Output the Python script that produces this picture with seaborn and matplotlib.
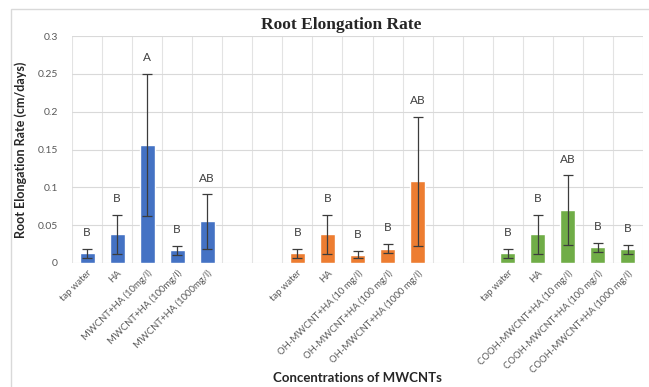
import numpy as np
import pandas as pd
import matplotlib
matplotlib.use("Agg")
import matplotlib.pyplot as plt
import seaborn as sns
from matplotlib.patches import Rectangle

# ---- data -------------------------------------------------------------
groups = ["MWCNT", "OH-MWCNT", "COOH-MWCNT"]

labels_mwcnt = ["tap water", "HA", "MWCNT+HA (10mg/l)",
                "MWCNT+HA (100mg/l)", "MWCNT+HA (1000mg/l)"]
labels_oh = ["tap water", "HA", "OH-MWCNT+HA (10 mg/l)",
             "OH-MWCNT+HA (100 mg/l)", "OH-MWCNT+HA (1000 mg/l)"]
labels_cooh = ["tap water", "HA", "COOH-MWCNT+HA (10 mg/l)",
               "COOH-MWCNT+HA (100 mg/l)", "COOH-MWCNT+HA (1000 mg/l)"]

means_mwcnt = [0.013, 0.038, 0.156, 0.017, 0.055]
means_oh = [0.013, 0.038, 0.011, 0.019, 0.108]
means_cooh = [0.013, 0.038, 0.070, 0.021, 0.018]

err_mwcnt = [0.006, 0.026, 0.094, 0.006, 0.036]
err_oh = [0.006, 0.026, 0.005, 0.006, 0.085]
err_cooh = [0.006, 0.026, 0.046, 0.006, 0.006]

letters_mwcnt = ["B", "B", "A", "B", "AB"]
letters_oh = ["B", "B", "B", "B", "AB"]
letters_cooh = ["B", "B", "AB", "B", "B"]

colors = ["#4472C4", "#ED7D31", "#70AD47"]

# ---- table ------------------------------------------------------------
all_labels = [labels_mwcnt, labels_oh, labels_cooh]
all_means = [means_mwcnt, means_oh, means_cooh]
all_errs = [err_mwcnt, err_oh, err_cooh]
all_letters = [letters_mwcnt, letters_oh, letters_cooh]

rows = []
order = []
tick_labels = []
for gi, (g, labs, ms, es, ls) in enumerate(zip(groups, all_labels, all_means,
                                                all_errs, all_letters)):
    for lab, m, e, l in zip(labs, ms, es, ls):
        key = f"{g}|{lab}"
        rows.append({"slot": key, "group": g, "rate": m, "err": e, "letter": l})
        order.append(key)
        tick_labels.append(lab)
    if gi < len(groups) - 1:
        # two empty slots separate the groups
        for k in range(2):
            order.append(f"gap{gi}{k}")
            tick_labels.append("")
df = pd.DataFrame(rows)

# ---- figure -----------------------------------------------------------
sns.set_theme(style="white")
plt.rcParams["font.family"] = ["Lato", "DejaVu Sans"]

fig = plt.figure(figsize=(6.49, 3.87), dpi=100)
ax = fig.add_axes([72 / 649, 1 - 263 / 387, (643 - 72) / 649, (263 - 36) / 387])

# outer chart frame
fig.patches.append(Rectangle((11 / 649, -0.05), 1.2, 1 - 8.5 / 387 + 0.05,
                             transform=fig.transFigure, fill=False,
                             edgecolor="#d9d9d9", linewidth=1.0, zorder=0))

sns.barplot(data=df, x="slot", y="rate", hue="group", order=order,
            hue_order=groups, palette=colors, width=0.5, dodge=False,
            errorbar=None, legend=False, saturation=1, ax=ax, zorder=3)

pos = {s: i for i, s in enumerate(order)}
xs = df["slot"].map(pos).to_numpy()
ax.errorbar(xs, df["rate"], yerr=df["err"], fmt="none", ecolor="#3c3c3c",
            elinewidth=0.9, capsize=3.5, capthick=0.9, zorder=4)

for x, m, e, l in zip(xs, df["rate"], df["err"], df["letter"]):
    ax.text(x, m + e + 0.014, l, ha="center", va="bottom", fontsize=8.5,
            color="#404040")

ax.set_xlim(-0.5, len(order) - 0.5)
ax.set_ylim(0, 0.3)
yt = [0, 0.05, 0.1, 0.15, 0.2, 0.25, 0.3]
ax.set_yticks(yt)
ax.set_yticklabels(["0", "0.05", "0.1", "0.15", "0.2", "0.25", "0.3"],
                   fontsize=7.5, color="#595959")
ax.set_xticks(range(len(order)))
ax.set_xticklabels(tick_labels, rotation=45, ha="right",
                   rotation_mode="anchor", fontsize=6.8, color="#595959")
ax.set_xticks(np.arange(-0.5, len(order), 1), minor=True)
ax.tick_params(axis="both", which="both", length=0)
ax.tick_params(axis="y", pad=10)
ax.tick_params(axis="x", pad=4)

ax.grid(axis="y", which="major", color="#d9d9d9", linewidth=0.8, zorder=0)
ax.grid(axis="x", which="minor", color="#e3e3e3", linewidth=0.8, zorder=0)
ax.grid(axis="x", which="major", visible=False)
ax.set_axisbelow(True)
for sp in ax.spines.values():
    sp.set_visible(False)

ax.set_xlabel("Concentrations of MWCNTs", fontsize=9.5, fontweight="bold",
              color="#262626")
ax.xaxis.set_label_coords(0.5, -(372 - 263) / 227)
ax.set_ylabel("Root Elongation Rate (cm/days)", fontsize=9,
              fontweight="bold", color="#262626")
ax.yaxis.set_label_coords(-(72 - 27) / 571, 0.5)

fig.text(341 / 649, 1 - 25 / 387, "Root Elongation Rate", ha="center",
         va="center", fontsize=12.5, fontweight="bold", color="#262626",
         family=["Liberation Serif", "DejaVu Serif"])

fig.savefig("out.png", dpi=100, facecolor="white")
